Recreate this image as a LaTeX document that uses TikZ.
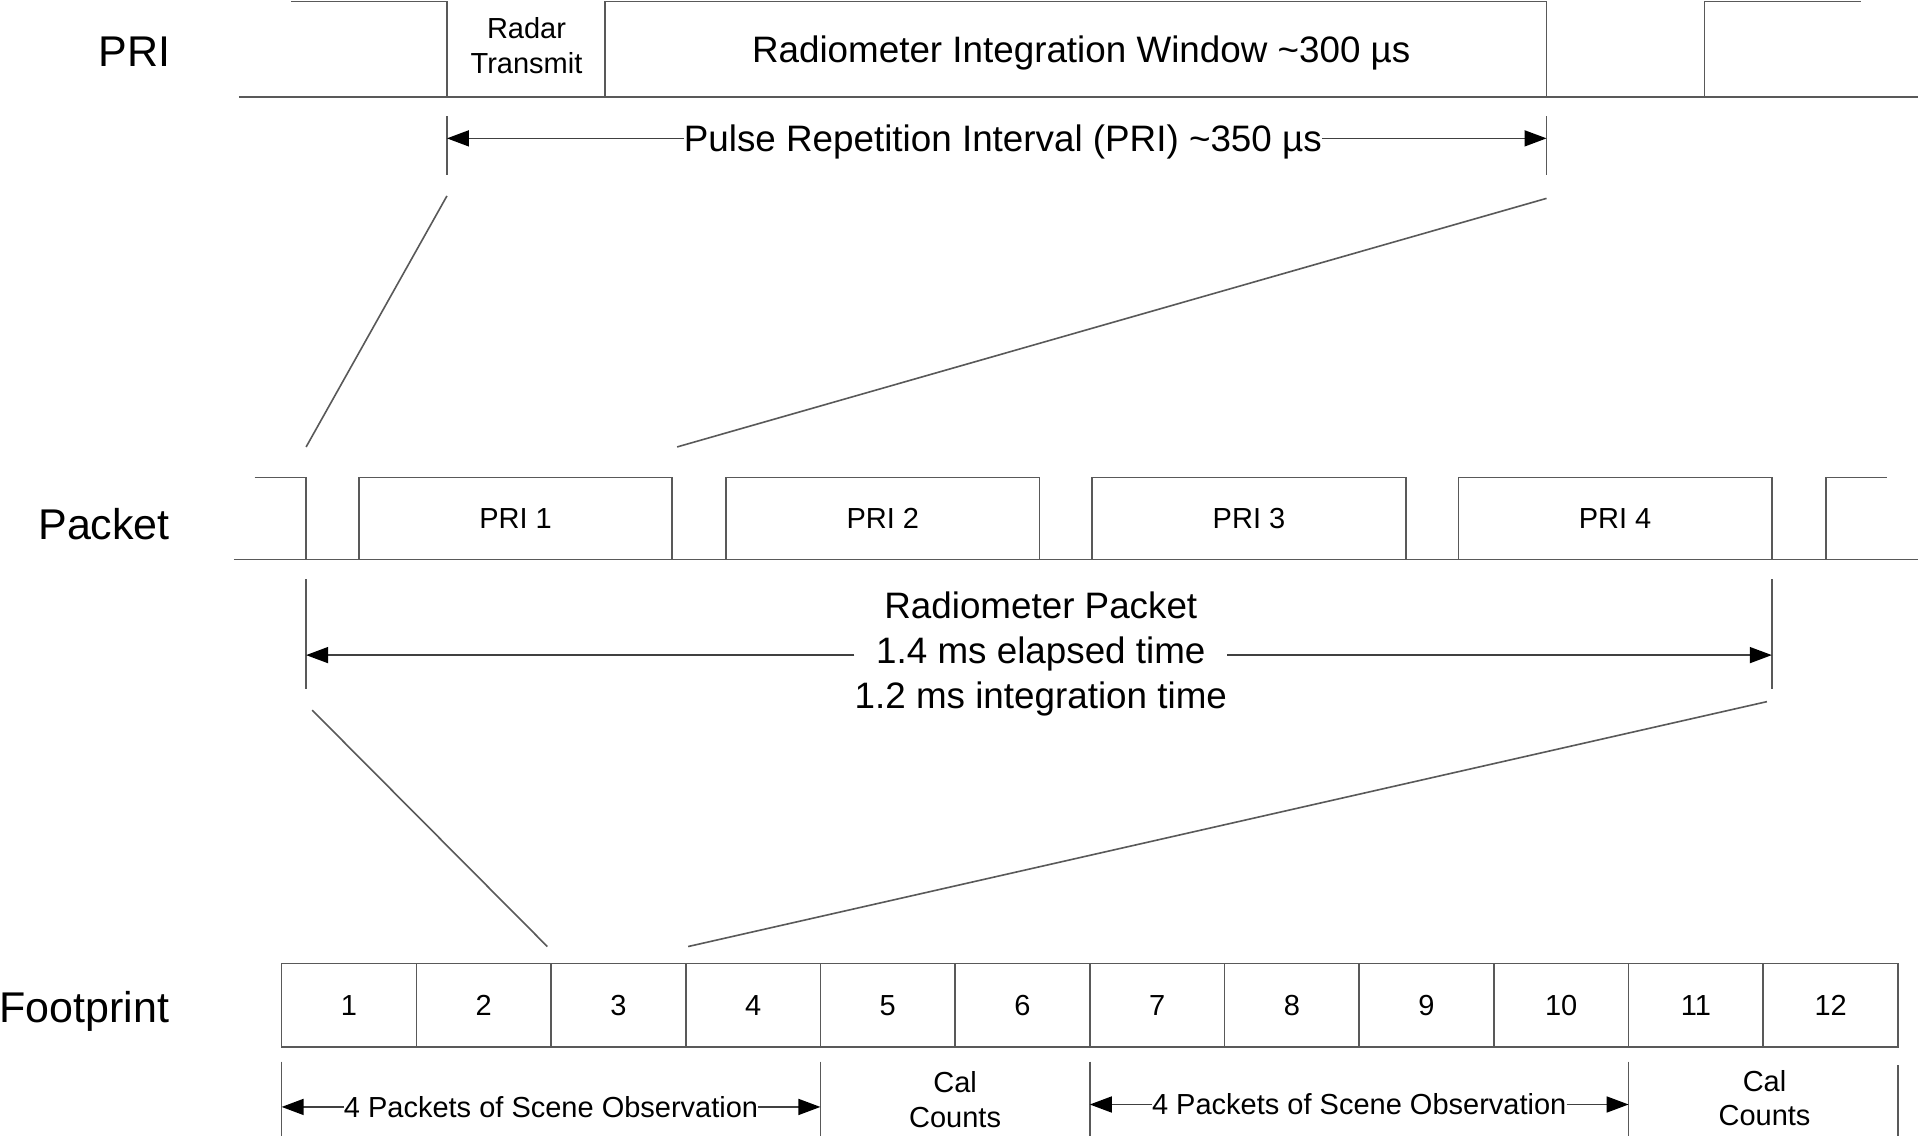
\documentclass[tikz,border=0pt]{standalone}
\usepackage{fontspec}
\setmainfont{Liberation Sans}
\usetikzlibrary{arrows.meta}
\begin{document}
\begin{tikzpicture}[x=1.2245pt,y=-1.2245pt,
  ln/.style={draw=black!65, line width=1.6pt},
  dim/.style={draw=black!75, line width=1.6pt, -{Triangle[length=22pt,width=16pt,color=black,fill=black]}},
  big/.style={font=\fontsize{43}{50}\selectfont},
  mid/.style={font=\fontsize{36.8}{44.7}\selectfont},
  sml/.style={font=\fontsize{29}{35}\selectfont},
  pribox/.style={ln, sml, minimum width=313.5pt, minimum height=82pt, inner sep=0pt},
  fcell/.style={ln, sml, minimum width=134.7pt, minimum height=83.3pt, inner sep=0pt},
  txt/.style={inner sep=0pt}]
\fill[white] (0,0) rectangle (1568,930);
\useasboundingbox (0,0) rectangle (1568,930);

% ---------------- PRI row ----------------
\node[big,txt] (lpri) at (110,42) {PRI};
\coordinate (p0) at (238,1.2);
\coordinate (p1) at (365,1.2);
\coordinate (p2) at (365,79);
\coordinate (p3) at (494,79);
\coordinate (p4) at (494,1.2);
\coordinate (p5) at (1263,1.2);
\coordinate (p6) at (1263,79);
\coordinate (p7) at (1392,79);
\coordinate (p8) at (1392,1.2);
\coordinate (p9) at (1520,1.2);
\coordinate (pb0) at (195,79);
\coordinate (pb1) at (1566,79);
\draw[ln] (p0) -- (p1) -- (p2);
\draw[ln] (p3) -- (p4) -- (p5) -- (p6);
\draw[ln] (p7) -- (p8) -- (p9);
\draw[ln] (pb0) -- (pb1);
\node[sml,txt,align=center] (radar) at (430,37) {Radar\\Transmit};
\node[mid,txt] (riw) at (883,43) {Radiometer Integration Window \textasciitilde300 µs};

\coordinate (d1t) at (365,95);
\coordinate (d1b) at (365,143);
\coordinate (d2t) at (1263,95);
\coordinate (d2b) at (1263,143);
\coordinate (a1) at (365,113);
\coordinate (a2) at (1263,113);
\draw[ln] (d1t) -- (d1b);
\draw[ln] (d2t) -- (d2b);
\node[mid,txt] (pritxt) at (819,116) {Pulse Repetition Interval (PRI) \textasciitilde350 µs};
\draw[dim] (pritxt.west |- a1) -- (a1);
\draw[dim] (pritxt.east |- a2) -- (a2);

\coordinate (z1a) at (365,160);
\coordinate (z1b) at (250,365);
\coordinate (z2a) at (1263,162);
\coordinate (z2b) at (553,365);
\draw[ln] (z1a) -- (z1b);
\draw[ln] (z2a) -- (z2b);

% ---------------- Packet row ----------------
\node[big,txt] (lpack) at (85,428) {Packet};
\coordinate (k0) at (208,390);
\coordinate (k1) at (250,390);
\coordinate (k2) at (250,457);
\coordinate (k3) at (1491,457);
\coordinate (k4) at (1491,390);
\coordinate (k5) at (1541,390);
\coordinate (kb0) at (191,457);
\coordinate (kb1) at (1566,457);
\draw[ln] (k0) -- (k1) -- (k2);
\draw[ln] (k3) -- (k4) -- (k5);
\draw[ln] (kb0) -- (kb1);
\node[pribox] (q1) at (421,423.5) {PRI 1};
\node[pribox] (q2) at (721,423.5) {PRI 2};
\node[pribox] (q3) at (1020,423.5) {PRI 3};
\node[pribox] (q4) at (1319,423.5) {PRI 4};

\coordinate (e1t) at (250,473);
\coordinate (e1b) at (250,563);
\coordinate (e2t) at (1447,473);
\coordinate (e2b) at (1447,563);
\coordinate (a3) at (250,535);
\coordinate (a4) at (1447,535);
\draw[ln] (e1t) -- (e1b);
\draw[ln] (e2t) -- (e2b);
\node[mid,txt,align=center] (rp) at (850,534) {Radiometer Packet\\1.4 ms elapsed time\\1.2 ms integration time};
\draw[dim] (rp.west |- a3) -- (a3);
\draw[dim] (rp.east |- a4) -- (a4);

\coordinate (z3a) at (255,580);
\coordinate (z3b) at (447,773);
\coordinate (z4a) at (1443,573);
\coordinate (z4b) at (562,773);
\draw[ln] (z3a) -- (z3b);
\draw[ln] (z4a) -- (z4b);

% ---------------- Footprint row ----------------
\node[big,txt] (lfoot) at (69,826) {Footprint};
\foreach \i in {1,...,12}{
  \node[fcell] (f\i) at ({285+110*(\i-1)},821) {\i};
}

\coordinate (g1t) at (230,867);
\coordinate (g1b) at (230,928);
\coordinate (g2t) at (670,867);
\coordinate (g2b) at (670,928);
\coordinate (g3t) at (890,867);
\coordinate (g3b) at (890,928);
\coordinate (g4t) at (1330,867);
\coordinate (g4b) at (1330,928);
\coordinate (g5t) at (1550,870);
\coordinate (g5b) at (1550,928);
\draw[ln] (g1t) -- (g1b);
\draw[ln] (g2t) -- (g2b);
\draw[ln] (g3t) -- (g3b);
\draw[ln] (g4t) -- (g4b);
\draw[ln] (g5t) -- (g5b);

\coordinate (b1) at (230,904);
\coordinate (b2) at (670,904);
\coordinate (b3) at (890,902);
\coordinate (b4) at (1330,902);
\node[sml,txt] (sc1) at (450,904) {4 Packets of Scene Observation};
\node[sml,txt] (sc2) at (1110,902) {4 Packets of Scene Observation};
\draw[dim] (sc1.west) -- (b1);
\draw[dim] (sc1.east) -- (b2);
\draw[dim] (sc2.west) -- (b3);
\draw[dim] (sc2.east) -- (b4);

\node[sml,txt,align=center,font=\fontsize{29}{34.3}\selectfont] (cal1) at (780,898) {Cal\\Counts};
\node[sml,txt,align=center,font=\fontsize{29}{34.3}\selectfont] (cal2) at (1441,897) {Cal\\Counts};
\end{tikzpicture}
\end{document}
